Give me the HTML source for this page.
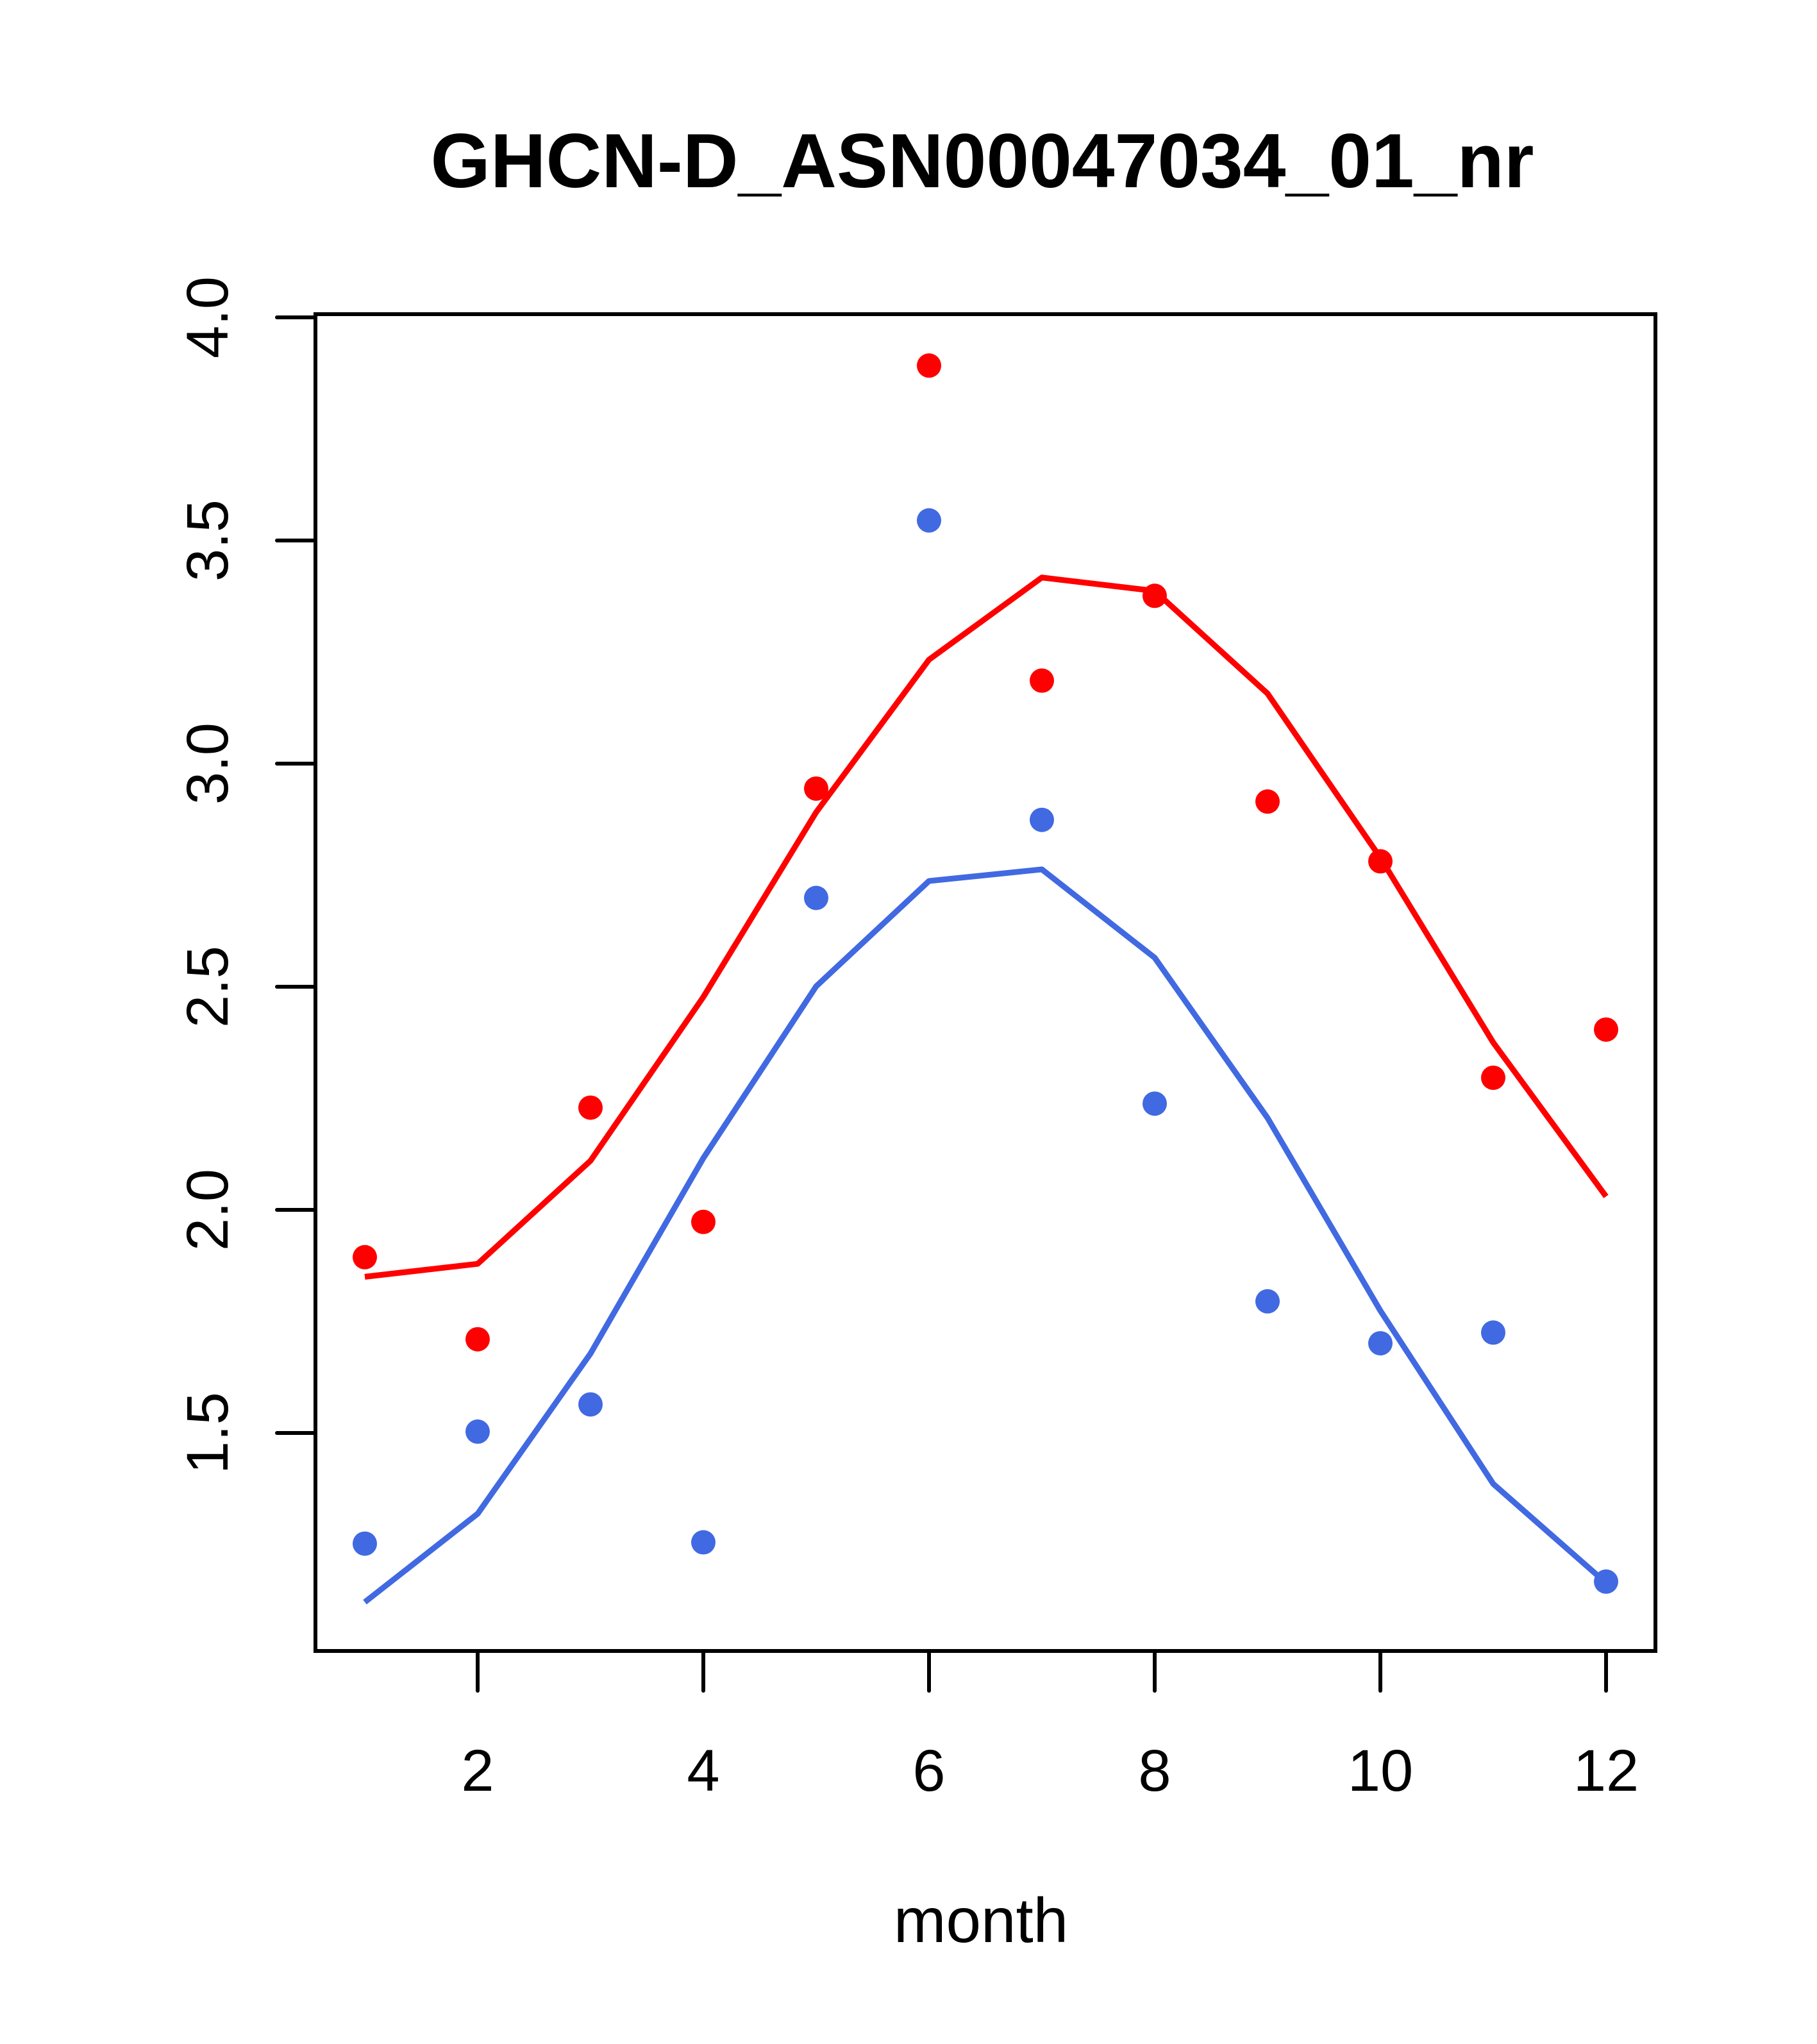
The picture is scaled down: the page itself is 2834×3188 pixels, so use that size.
<!DOCTYPE html>
<html><head><meta charset="utf-8"><style>html,body{margin:0;padding:0;background:#fff}svg{display:block}</style></head>
<body>
<svg id="chart" width="2834" height="3188" viewBox="0 0 2834 3188" xmlns="http://www.w3.org/2000/svg" font-family="'Liberation Sans', sans-serif">
<text x="1532" y="292" font-size="120" font-weight="bold" text-anchor="middle">GHCN-D_ASN00047034_01_nr</text>
<text x="1530" y="3029" font-size="98" text-anchor="middle">month</text>
<g id="plot"></g>
</svg>
<script>
const months = [1,2,3,4,5,6,7,8,9,10,11,12];
const redPoints = [1.894,1.71,2.229,1.973,2.944,3.892,3.186,3.376,2.915,2.781,2.296,2.404];
const redLine = [1.85,1.879,2.11,2.477,2.891,3.233,3.417,3.387,3.157,2.789,2.375,2.03];
const bluePoints = [1.252,1.503,1.564,1.255,2.699,3.545,2.874,2.238,1.795,1.701,1.725,1.167];
const blueLine = [1.121,1.319,1.678,2.116,2.501,2.737,2.763,2.565,2.206,1.774,1.386,1.164];
const xTicks = [2,4,6,8,10,12];
const yTicks = [1.5,2.0,2.5,3.0,3.5,4.0];
const yTickLabels = ["1.5","2.0","2.5","3.0","3.5","4.0"];

const L=492,T=490,R=2582,B=2575;
function xs(m){return 745+(m-2)*176;}
function ys(v){return 495+(4-v)*696;}
const g=document.getElementById('plot');
const NS='http://www.w3.org/2000/svg';
function mk(tag,attrs){const e=document.createElementNS(NS,tag);for(const k in attrs)e.setAttribute(k,attrs[k]);g.appendChild(e);return e;}

const box=mk('rect',{x:L,y:T,width:R-L,height:B-T,fill:'none',stroke:'#000','stroke-width':6});



xTicks.forEach(t=>{
  const l=mk('line',{x1:xs(t),x2:xs(t),y1:B,y2:B+62,stroke:'#000','stroke-width':6,'stroke-linecap':'round'});
  
  
  const tx=mk('text',{x:xs(t),y:2793,'font-size':92,'text-anchor':'middle'});
  tx.textContent=String(t);
  
  
});
yTicks.forEach((t,i)=>{
  const l=mk('line',{x1:L-60,x2:L,y1:ys(t),y2:ys(t),stroke:'#000','stroke-width':6,'stroke-linecap':'round'});
  
  
  const tx=mk('text',{x:0,y:0,'font-size':92,'text-anchor':'middle',transform:`translate(355,${ys(t)}) rotate(-90)`});
  tx.textContent=yTickLabels[i];
  
  
});

function line(vals,color,name){
  const p=mk('polyline',{points:months.map((m,i)=>xs(m)+','+ys(vals[i])).join(' '),fill:'none',stroke:color,'stroke-width':9,'stroke-linejoin':'round'});
  
  
}
function pts(vals,color,name){
  months.forEach((m,i)=>{
    const c=mk('circle',{cx:xs(m),cy:ys(vals[i]),r:19,fill:color});
    
    
  });
}
line(redLine,'#ff0000','red-fit-line');
line(blueLine,'#4169e1','blue-fit-line');
pts(redPoints,'#ff0000','red-point');
pts(bluePoints,'#4169e1','blue-point');
</script>
</body></html>
